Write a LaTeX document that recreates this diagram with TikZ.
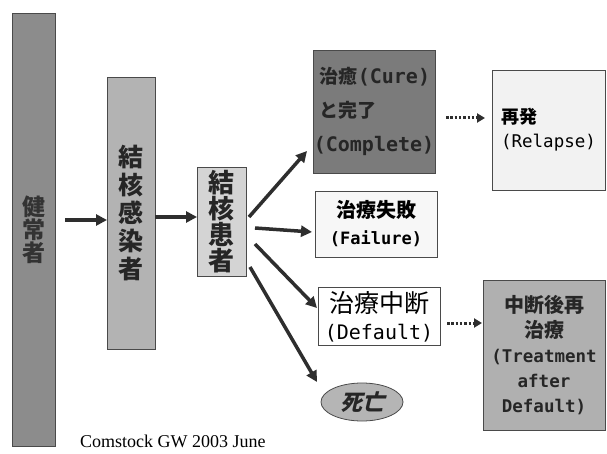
\documentclass[tikz,border=0pt]{standalone}
\usepackage{fontspec}
\setmainfont{Liberation Serif}
\newfontfamily\jp{Noto Sans CJK JP}
\newfontfamily\jpsl{Noto Sans CJK JP}[FakeSlant=0.25]
\newfontfamily\mono{DejaVu Sans Mono}
\usetikzlibrary{arrows.meta,shapes.geometric}
\definecolor{kenjoC}{HTML}{8C8C8C}
\definecolor{kansenC}{HTML}{B3B3B3}
\definecolor{kanjaC}{HTML}{D4D4D4}
\definecolor{cureC}{HTML}{7B7B7B}
\definecolor{relapseC}{HTML}{F2F2F2}
\definecolor{failC}{HTML}{F7F7F7}
\definecolor{retreatC}{HTML}{B0B0B0}
\definecolor{deathC}{HTML}{B5B5B5}
\definecolor{boxline}{HTML}{4A4A4A}
\definecolor{arrowc}{HTML}{2E2E2E}
\definecolor{darktext}{HTML}{262626}
\tikzset{
  box/.style={draw=boxline, line width=0.8pt, inner sep=0pt, outer sep=0pt},
  vtext/.style={font=\jp\bfseries\fontsize{#1}{#1}\selectfont, align=center, text=darktext},
  arr/.style={draw=arrowc, line width=3.5pt, -{Triangle[length=11pt,width=11pt]}},
  dotarr/.style={draw=arrowc, line width=3pt, dash pattern=on 2.5pt off 1.8pt, -{Triangle[length=8pt,width=9pt]}},
}
\begin{document}
\begin{tikzpicture}[x=1pt,y=-1pt]
\useasboundingbox (0,0) rectangle (607,454);
\fill[white] (0,0) rectangle (607,454);
% vertical boxes
\node[box, fill=kenjoC, minimum width=43pt, minimum height=433pt, vtext=23, text=black!80] (kenjo) at (33.5,229.5) {健\\常\\者};
\node[box, fill=kansenC, minimum width=48pt, minimum height=272pt, vtext=24, font=\jp\bfseries\fontsize{25}{28}\selectfont] (kansen) at (131,213) {結\\核\\感\\染\\者};
\node[box, fill=kanjaC, minimum width=49pt, minimum height=109pt, vtext=26] (kanja) at (221.5,221.5) {結\\核\\患\\者};
% outcome boxes
\node[box, fill=cureC, minimum width=122pt, minimum height=123pt, align=left, text=darktext,
      font=\jp\bfseries\fontsize{19}{34}\selectfont] (cure) at (374,111.5)
  {\hspace*{6pt}治癒{\mono\fontsize{20}{34}\selectfont(Cure)}\\\hspace*{6pt}と完了\\{\mono\fontsize{20}{34}\selectfont(Complete)}};
\node[box, fill=relapseC, minimum width=113pt, minimum height=120pt, align=left, text=black,
      font=\jp\bfseries\fontsize{18}{24}\selectfont] (relapse) at (548.5,130)
  {再発\\{\mono\mdseries\fontsize{17.5}{24}\selectfont(Relapse)}};
\node[box, fill=failC, minimum width=122pt, minimum height=66pt, align=center, text=black,
      font=\jp\bfseries\fontsize{20}{27}\selectfont] (fail) at (376,224)
  {治療失敗\\{\mono\fontsize{17}{27}\selectfont(Failure)}};
\node[box, fill=white, minimum width=122pt, minimum height=58pt, align=center, text=black,
      font=\jp\fontsize{25}{27}\selectfont] (default) at (379,316.5)
  {治療中断\\{\mono\fontsize{20}{27}\selectfont(Default)}};
\node[box, fill=retreatC, minimum width=122pt, minimum height=150pt, align=center, text=darktext,
      font=\jp\bfseries\fontsize{20}{25}\selectfont] (retreat) at (544,355)
  {中断後再\\治療\\{\mono\bfseries\fontsize{17.5}{25}\selectfont(Treatment}\\{\mono\bfseries\fontsize{17.5}{25}\selectfont after}\\{\mono\bfseries\fontsize{17.5}{25}\selectfont Default)}};
\node[box, ellipse, fill=deathC, minimum width=82pt, minimum height=38pt, text=darktext,
      font=\jpsl\bfseries\fontsize{22}{24}\selectfont] (death) at (362,402) {死亡};
% caption
\node[anchor=west, inner sep=0pt, font=\fontsize{18}{20}\selectfont] (cap) at (80,441) {Comstock GW 2003 June};
% arrows
\draw[arr] ([shift={(10,-9.5)}]kenjo.east) -- ([shift={(0,7)}]kansen.west);
\draw[arr] ([shift={(0,4)}]kansen.east) -- ([shift={(0,-4.5)}]kanja.west);
\draw[arr] ([shift={(3,-4.5)}]kanja.east) -- ([shift={(-6,-22)}]cure.south west);
\draw[arr] ([shift={(9,6.5)}]kanja.east) -- ([shift={(-3,8)}]fail.west);
\draw[arr] ([shift={(9,22.5)}]kanja.east) -- ([shift={(-1,-8.5)}]default.west);
\draw[arr] ([shift={(4,45.5)}]kanja.east) -- ([shift={(-4,-20)}]death.west);
\draw[dotarr] ([shift={(11,6.5)}]cure.east) -- ([shift={(-7,-12)}]relapse.west);
\draw[dotarr] ([shift={(7,6.5)}]default.east) -- ([shift={(-1,-32)}]retreat.west);
\end{tikzpicture}
\end{document}
